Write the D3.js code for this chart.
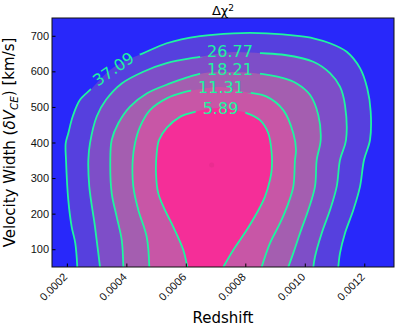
<!DOCTYPE html>
<html lang="en">
<head>
<meta charset="UTF-8">
<title>Delta chi2 contours</title>
<script src="https://cdn.jsdelivr.net/npm/d3@7"></script>
<style>
    body { margin: 0; background: #fff; }
    svg { display: block; font-family: "DejaVu Sans", sans-serif; }
</style>
</head>
<body>
<script>

    // CONTOUR LEVELS AND FILL COLOURS (outside -> inside)
    const levels = [37.09, 26.77, 18.21, 11.31, 5.89]
    const outsideColor = "#2828fa"
    const bandColors = ["#5640de", "#7e4ec8", "#a45eb0", "#c856a6", "#f52e98"]

    // TICKS
    const xTicks = [0.0002, 0.0004, 0.0006, 0.0008, 0.0010, 0.0012]
    const yTicks = [100, 200, 300, 400, 500, 600, 700]

    // CONTOUR LINES: [redshift, velocity width]
    const c3709 = [[0.0002351,50],[0.0002283,117],[0.0002162,163],[0.0002048,238],[0.0001971,351],[0.0001961,398],
        [0.0002048,426],[0.0002196,473],[0.0002442,520],[0.0002835,552],[0.0003450,604],[0.0004012,632],
        [0.0004516,649],[0.0005357,679],[0.0006477,699],[0.0007596,707],[0.0008720,707],[0.0009839,699],
        [0.0010287,693],[0.0010848,679],[0.0011410,655],[0.0011857,609],[0.0012102,552],[0.0012216,487],
        [0.0012193,407],[0.0011991,351],[0.0011857,276],[0.0011632,210],[0.0011352,145],[0.0011184,89],[0.0011127,50]]
    const c2677 = [[0.0003114,50],[0.0003057,89],[0.0002946,163],[0.0002754,276],[0.0002721,351],[0.0002778,398],
        [0.0003003,473],[0.0003316,520],[0.0003844,566],[0.0004570,599],[0.0005357,623],[0.0006477,641],
        [0.0007486,654],[0.0008551,651],[0.0009335,646],[0.0010287,627],[0.0010848,595],[0.0011184,557],
        [0.0011352,505],[0.0011386,407],[0.0011184,351],[0.0011073,276],[0.0010848,210],[0.0010569,145],
        [0.0010343,79],[0.0010287,50]]
    const c1821 = [[0.0003898,50],[0.0003844,126],[0.0003676,191],[0.0003508,257],[0.0003460,351],[0.0003508,407],
        [0.0003729,454],[0.0004123,501],[0.0004684,538],[0.0005468,566],[0.0005972,581],[0.0006588,595],
        [0.0007486,598],[0.0008326,595],[0.0009278,581],[0.0009728,566],[0.0010175,534],[0.0010455,477],
        [0.0010535,407],[0.0010401,351],[0.0010343,276],[0.0010118,210],[0.0009839,145],[0.0009614,89],[0.0009446,50]]
    const c1131 = [[0.0004772,50],[0.0004684,135],[0.0004402,210],[0.0004234,276],[0.0004214,351],[0.0004291,398],
        [0.0004459,444],[0.0004795,491],[0.0005357,524],[0.0005972,542],[0.0006342,548],[0.0007183,556],
        [0.0007990,542],[0.0008720,529],[0.0009278,491],[0.0009614,426],[0.0009705,379],[0.0009671,351],
        [0.0009614,276],[0.0009446,229],[0.0009167,173],[0.0008831,117],[0.0008551,50]]
    const c0589 = [[0.0006050,50],[0.0005915,98],[0.0005579,163],[0.0005300,210],[0.0005074,257],[0.0004997,313],
        [0.0005021,370],[0.0005098,407],[0.0005357,441],[0.0005804,472],[0.0006309,486],[0.0007149,497],
        [0.0007990,484],[0.0008494,463],[0.0008773,426],[0.0008887,370],[0.0008887,323],[0.0008830,295],
        [0.0008662,248],[0.0008383,201],[0.0008047,154],[0.0007596,98],[0.0007260,50]]
    const contours = [c3709, c2677, c1821, c1131, c0589]

    // INLINE LABEL POSITIONS: [redshift, velocity, rotation]
    const labelPos = [[0.0003561,607,-35],[0.0007486,656,0],[0.0007486,605,0],[0.0007183,555,0],[0.0007166,497,0]]

    // MINIMUM MARKER
    const best = [0.000687, 337]

    const W = 398, H = 330
    const margin = {left: 52, right: 4, top: 18, bottom: 63}
    const pw = W - margin.left - margin.right
    const ph = H - margin.top - margin.bottom

    let svg = d3.select("body").append("svg").attr("width", W).attr("height", H)

    let x_scale = d3.scaleLinear().domain([0.00015, 0.0013]).range([0, pw])
    let y_scale = d3.scaleLinear().domain([50, 750]).range([ph, 0])

    let line = d3.line()
        .x(d => x_scale(d[0]))
        .y(d => y_scale(d[1]))
        .curve(d3.curveCatmullRom.alpha(0.5))

    svg.append("clipPath").attr("id", "plotclip")
        .append("rect").attr("width", pw).attr("height", ph)

    let g = svg.append("g").attr("transform", `translate(${margin.left},${margin.top})`)
    let plot = g.append("g").attr("clip-path", "url(#plotclip)")

    // FILLED BANDS
    plot.append("rect").attr("width", pw).attr("height", ph).attr("fill", outsideColor)
    contours.forEach((c, i) => {
        plot.append("path").attr("d", line(c) + "Z").attr("fill", bandColors[i])
    })

    plot.append("circle")
        .attr("cx", x_scale(best[0])).attr("cy", y_scale(best[1])).attr("r", 2.5)
        .attr("fill", "#ea2c90")

    // LABELS (drawn first so their size can be measured for the line gaps)
    let mask = svg.append("mask").attr("id", "labelgap").attr("maskUnits", "userSpaceOnUse")
    mask.append("rect").attr("x", -10).attr("y", -10).attr("width", W).attr("height", H).attr("fill", "#fff")

    let lines = plot.append("g").attr("mask", "url(#labelgap)")
    let labels = plot.append("g")

    levels.forEach((lv, i) => {
        let p = labelPos[i]
        let lx = x_scale(p[0]), ly = y_scale(p[1])
        let t = labels.append("text")
            .attr("transform", `translate(${lx},${ly}) rotate(${p[2]})`)
            .attr("text-anchor", "middle")
            .attr("dy", "0.36em")
            .style("font-size", "16px")
            .attr("fill", "#1ef5a0")
            .text(lv.toFixed(2))
        let tw = t.node().getComputedTextLength() + 14
        mask.append("rect")
            .attr("x", -tw / 2).attr("y", -6).attr("width", tw).attr("height", 12)
            .attr("transform", `translate(${lx},${ly}) rotate(${p[2]})`)
            .attr("fill", "#000")
    })

    contours.forEach(c => {
        lines.append("path").attr("d", line(c))
            .attr("fill", "none").attr("stroke", "#1ef5a0").attr("stroke-width", 1.8)
    })

    // AXES
    const x_axis = d3.axisBottom(x_scale).tickValues(xTicks).tickFormat(d3.format(".4f"))
        .tickSizeInner(-3.5).tickSizeOuter(0)
    const y_axis = d3.axisLeft(y_scale).tickValues(yTicks).tickFormat(d3.format("d"))
        .tickSizeInner(-3.5).tickSizeOuter(0).tickPadding(3)

    let gx = g.append("g").attr("transform", `translate(0,${ph})`).call(x_axis)
    gx.select(".domain").remove()
    gx.selectAll("text")
        .attr("y", 0).attr("dy", "0.35em")
        .attr("text-anchor", "end")
        .attr("transform", "translate(-2,8) rotate(-45)")
        .style("font-size", "11px").attr("fill", "#111")

    let gy = g.append("g").call(y_axis)
    gy.select(".domain").remove()
    gy.selectAll("text").style("font-size", "11px").attr("fill", "#111")

    g.selectAll(".tick line").attr("stroke", "#000")

    // FRAME
    g.append("rect").attr("width", pw).attr("height", ph)
        .attr("fill", "none").attr("stroke", "#111").attr("stroke-width", 1)

    // TITLE AND AXIS LABELS
    let title = svg.append("text").attr("x", margin.left + pw / 2).attr("y", 15)
        .attr("text-anchor", "middle").style("font-size", "13px")
    title.append("tspan").text("Δχ")
    title.append("tspan").attr("dy", "-0.45em").style("font-size", "9px").text("2")

    svg.append("text")
        .attr("x", margin.left + pw / 2).attr("y", 323)
        .attr("text-anchor", "middle").style("font-size", "15px")
        .text("Redshift")

    let yl = svg.append("text")
        .attr("transform", `translate(15,${margin.top + ph / 2}) rotate(-90)`)
        .attr("text-anchor", "middle").style("font-size", "15px")
    yl.append("tspan").text("Velocity Width (")
    yl.append("tspan").style("font-style", "italic").text("δV")
    yl.append("tspan").style("font-style", "italic").style("font-size", "10.5px").attr("dy", "0.25em").text("CE")
    yl.append("tspan").attr("dy", "-0.25em").text(") [km/s]")

</script>
</body>
</html>
